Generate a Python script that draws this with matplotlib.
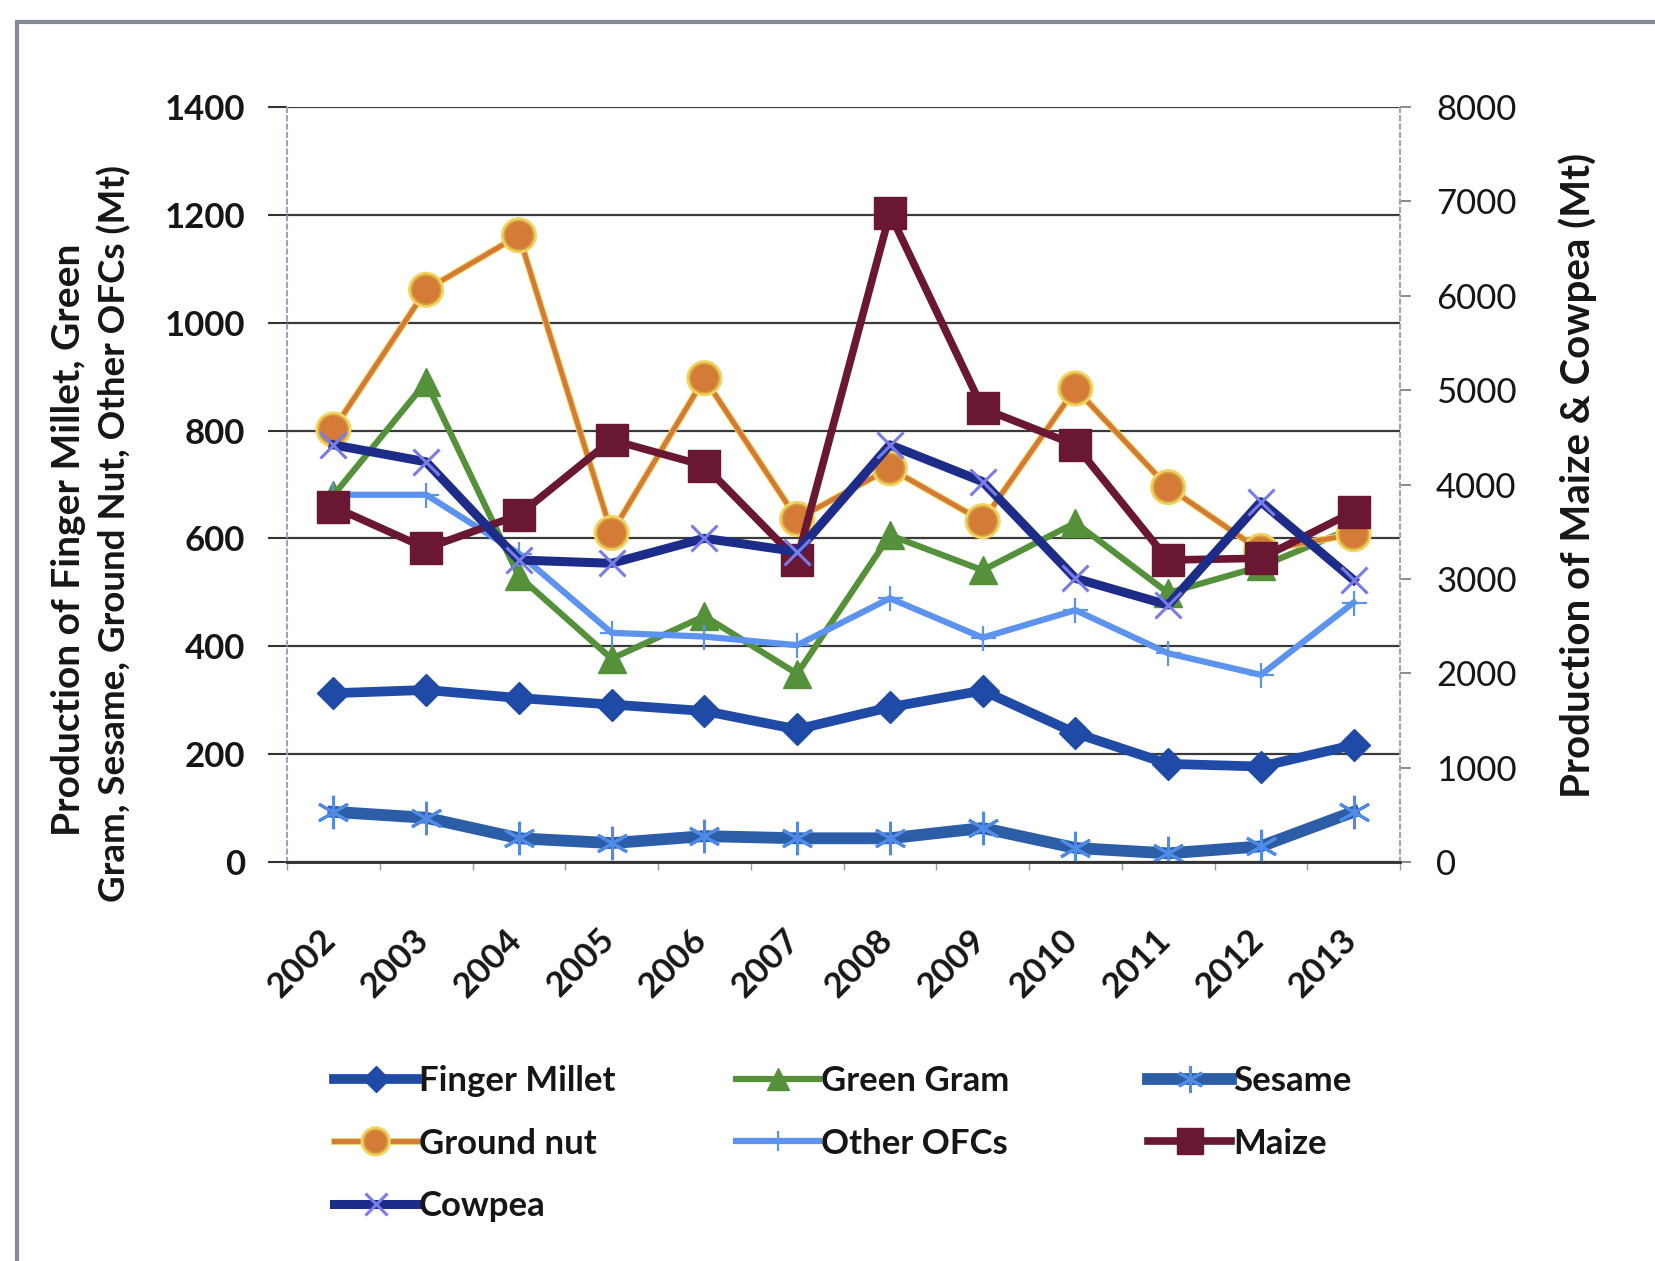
import numpy as np
import matplotlib
matplotlib.use("Agg")
import matplotlib.pyplot as plt
import matplotlib.patheffects as pe
from matplotlib.patches import Rectangle
from matplotlib.ticker import FixedLocator, NullFormatter
import matplotlib.transforms as mtransforms

plt.rcParams['font.family'] = ['Lato', 'DejaVu Sans']

years = ["2002", "2003", "2004", "2005", "2006", "2007",
         "2008", "2009", "2010", "2011", "2012", "2013"]

# Primary axis series (Mt)
finger_millet = [313, 319, 304, 292, 280, 246, 287, 318, 239, 182, 177, 217]
green_gram    = [680, 890, 530, 377, 456, 349, 606, 541, 629, 499, 548, 620]
sesame        = [93, 82, 44, 35, 48, 44, 44, 63, 26, 16, 29, 93]
ground_nut    = [802, 1061, 1162, 610, 897, 636, 730, 632, 878, 695, 577, 608]
other_ofcs    = [681, 681, 572, 425, 418, 402, 489, 416, 467, 387, 347, 481]

# Secondary axis series (Mt)
maize  = [3765, 3323, 3677, 4472, 4200, 3200, 6873, 4807, 4419, 3200, 3218, 3712]
cowpea = [4420, 4240, 3200, 3165, 3430, 3288, 4420, 4030, 3006, 2723, 3818, 2988]

left_ticks = [0, 200, 400, 600, 800, 1000, 1200, 1400]
right_ticks = [0, 1000, 2000, 3000, 4000, 5000, 6000, 7000, 8000]

W, H = 1655, 1261
fig = plt.figure(figsize=(W / 100, H / 100), dpi=100)
fig.patch.set_facecolor("white")

# outer chart frame
fig.patches.append(Rectangle((17 / W, -0.05), 1.2, 1 - 22 / H + 0.05,
                             transform=fig.transFigure, fill=False,
                             edgecolor="#858b96", lw=3.0, zorder=0))

x0, x1, y0, y1 = 287, 1400, 107, 862
ax = fig.add_axes([x0 / W, 1 - y1 / H, (x1 - x0) / W, (y1 - y0) / H])
ax2 = ax.twinx()

x = np.arange(len(years))
text_col = "#161616"

ax.plot(x, finger_millet, color="#1f4aa6", lw=7.0, marker="D", ms=16,
        mfc="#1f4aa6", mec="#1f4aa6", label="Finger Millet", zorder=3)
ax.plot(x, green_gram, color="#55913a", lw=4.5, marker="^", ms=20,
        mfc="#55913a", mec="#55913a", label="Green Gram", zorder=3)
ax.plot(x, sesame, color="#2c5ea8", lw=8.5, marker=(6, 2, 0), ms=24,
        mew=2.2, mec="#4f8be6", label="Sesame", zorder=3)
ax.plot(x, ground_nut, color="#d27a36", lw=3.5, marker="o", ms=21,
        mfc="#d47b38", mec="#d9a040", mew=1.2, label="Ground nut", zorder=3,
        path_effects=[pe.Stroke(linewidth=5.0, foreground="#f0d460"), pe.Normal()])
ax.plot(x, other_ofcs, color="#5b93ee", lw=4.5, marker="+", ms=18,
        mew=1.6, mec="#5b93ee", label="Other OFCs", zorder=3)

ax2.plot(x, maize, color="#6a1733", lw=5.5, marker="s", ms=23,
         mfc="#6a1733", mec="#6a1733", label="Maize", zorder=3)
ax2.plot(x, cowpea, color="#1c2c88", lw=6.5, marker="x", ms=19,
         mew=2.2, mec="#7a7ce6", label="Cowpea", zorder=4)

# axes limits and ticks
ax.set_xlim(-0.5, len(years) - 0.5)
ax.set_ylim(0, 1400)
ax2.set_ylim(0, 8000)

ax.set_yticks(left_ticks)
ax.set_yticklabels([str(v) for v in left_ticks], fontsize=25,
                   fontweight="bold", color=text_col)
ax.tick_params(axis="y", length=14, width=1.5, color="#333333", pad=16)

ax2.set_yticks(right_ticks)
ax2.set_yticklabels([str(v) for v in right_ticks], fontsize=25,
                    color=text_col)
ax2.tick_params(axis="y", length=8, width=1.2, color="#777777", pad=18)

ax.set_xticks(x)
ax.set_xticklabels(years, rotation=45, ha="right", va="top",
                   fontsize=25, fontweight="bold", color=text_col)
ax.tick_params(axis="x", which="major", length=0, pad=44)
ax.xaxis.set_minor_locator(FixedLocator(np.arange(-0.5, len(years), 1.0)))
ax.xaxis.set_minor_formatter(NullFormatter())
ax.tick_params(axis="x", which="minor", length=6, width=1.0, color="#999999")
shift = mtransforms.ScaledTranslation(9 / 100, 0, fig.dpi_scale_trans)
for lbl in ax.get_xticklabels():
    lbl.set_transform(lbl.get_transform() + shift)

# gridlines and spines
ax.yaxis.grid(True, color="#3a3a3a", lw=1.6)
ax.set_axisbelow(True)
for a in (ax, ax2):
    a.spines["top"].set_visible(False)
    a.spines["left"].set_color("#9aa6bd")
    a.spines["left"].set_linestyle((0, (2, 2)))
    a.spines["left"].set_linewidth(1.5)
    a.spines["right"].set_color("#9aa6bd")
    a.spines["right"].set_linestyle((0, (2, 2)))
    a.spines["right"].set_linewidth(1.5)
    a.spines["bottom"].set_color("#333333")
    a.spines["bottom"].set_linewidth(1.8)
ax2.spines["left"].set_visible(False)
ax.spines["right"].set_visible(False)

# axis titles
fig.text(69 / W, 1 - 540 / H, "Production of Finger Millet, Green",
         rotation=90, ha="center", va="center", fontsize=28,
         fontweight="bold", color=text_col)
fig.text(114 / W, 1 - 533 / H, "Gram, Sesame, Ground Nut, Other OFCs (Mt)",
         rotation=90, ha="center", va="center", fontsize=26.5,
         fontweight="bold", color=text_col)
fig.text(1578 / W, 1 - 475 / H, "Production of Maize & Cowpea (Mt)",
         rotation=90, ha="center", va="center", fontsize=29,
         fontweight="bold", color=text_col)

# legend, three columns filled row by row
h1, l1 = ax.get_legend_handles_labels()
h2, l2 = ax2.get_legend_handles_labels()
hmap = dict(zip(l1 + l2, h1 + h2))
columns = [["Finger Millet", "Ground nut", "Cowpea"],
           ["Green Gram", "Other OFCs"],
           ["Sesame", "Maize"]]
col_x = [334, 736, 1148]
for names, cx in zip(columns, col_x):
    leg = fig.legend([hmap[n] for n in names], names,
                     loc="upper left", bbox_to_anchor=(cx / W, 1 - 1065 / H),
                     frameon=False, fontsize=25, handlelength=2.4,
                     handletextpad=0.05, labelspacing=0.88, borderpad=0,
                     borderaxespad=0, markerscale=0.8)
    for t in leg.get_texts():
        t.set_fontweight("bold")
        t.set_color(text_col)

fig.savefig("out.png", dpi=100, facecolor="white")
